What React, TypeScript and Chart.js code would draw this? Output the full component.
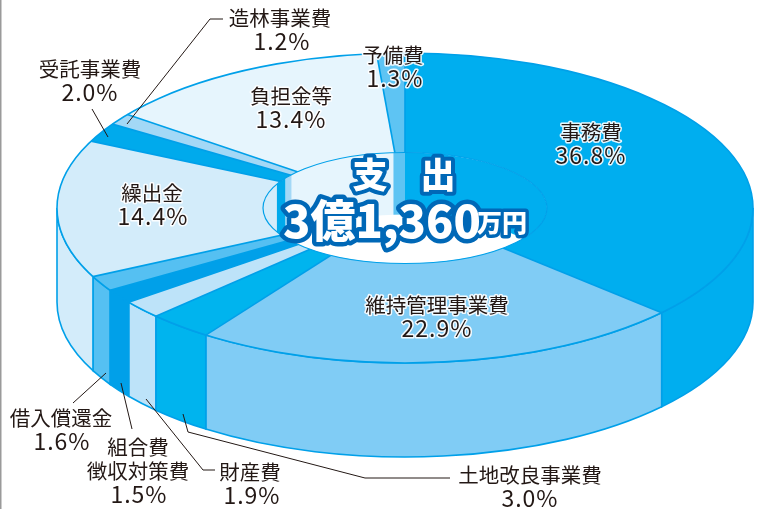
import React, { useEffect, useRef } from "react";
import { Chart, registerables } from "chart.js";

Chart.register(...registerables);

const categories = ["事務費", "維持管理事業費", "土地改良事業費", "財産費", "組合費\n徴収対策費", "借入償還金", "繰出金", "受託事業費", "造林事業費", "負担金等", "予備費"];
const shares = [36.8, 22.9, 3.0, 1.9, 1.5, 1.6, 14.4, 2.0, 1.2, 13.4, 1.3];
const sliceColors = ["#00aeef", "#80ccf5", "#00b4ee", "#bde3f9", "#00a0e9", "#55c0f2", "#d3ecfa", "#00aaec", "#a3d8f6", "#e6f5fd", "#5ec4f3"];
const centerTitle = ["支", "出"];
const centerAmount = "3億1,360";
const centerUnit = "万円";

// label anchors, same order as categories: [x, y of first line, x of percent]
const labelAnchors = [
  [591, 132, 591], [437, 305, 437], [530, 475, 530], [250, 472, 252], [138, 447, 139], [61, 418, 62],
  [152, 193, 153], [90, 69, 90], [280, 18, 282], [291, 96, 291], [393, 55, 395],
];
const leaders = [
  [[223, 19], [210, 19], [127, 124]],
  [[92, 109], [108, 137]],
  [[106, 373], [73, 403]],
  [[121, 383], [132, 429]],
  [[146, 399], [203, 470], [215, 470]],
  [[183, 414], [188, 432], [365, 478], [450, 478]],
];

const CX = 405, CY = 208, RX = 348, RY = 155, DEPTH = 94;
const HOLE_RX = 142, HOLE_RY = 55.5, HOLE_DEPTH = 62;
const LINE = "#00a0e9";
const INK = "#231815";
const DARK = "#0068b7";
const FONT = '"Noto Sans CJK JP", "Noto Sans", sans-serif';

const pie3d = {
  id: "pie3d",
  beforeDatasetsDraw(chart: any) {
    const ctx = chart.ctx;
    const arcs = chart.getDatasetMeta(0).data;
    // outer wall
    ctx.save();
    arcs.forEach((arc: any, i: number) => {
      const a = Math.max(arc.startAngle, 0);
      const b = Math.min(arc.endAngle, Math.PI);
      if (b <= a) return;
      ctx.beginPath();
      ctx.ellipse(CX, CY, RX, RY, 0, a, b);
      ctx.ellipse(CX, CY + DEPTH, RX, RY, 0, b, a, true);
      ctx.closePath();
      ctx.fillStyle = sliceColors[i];
      ctx.fill();
      ctx.strokeStyle = LINE;
      ctx.lineWidth = 1.6;
      ctx.stroke();
    });
    ctx.restore();
    // top face drawn by the library, squashed to an ellipse
    const f = arcs[0];
    ctx.save();
    ctx.translate(CX, CY);
    ctx.scale(RX / f.outerRadius, RY / f.outerRadius);
    ctx.translate(-f.x, -f.y);
  },
  afterDatasetsDraw(chart: any) {
    const ctx = chart.ctx;
    ctx.restore();
    const arcs = chart.getDatasetMeta(0).data;
    ctx.save();
    // radial lines and rim
    ctx.strokeStyle = LINE;
    ctx.lineWidth = 1.6;
    arcs.forEach((arc: any) => {
      ctx.beginPath();
      ctx.moveTo(CX, CY);
      ctx.lineTo(CX + RX * Math.cos(arc.startAngle), CY + RY * Math.sin(arc.startAngle));
      ctx.stroke();
    });
    ctx.beginPath();
    ctx.ellipse(CX, CY, RX, RY, 0, 0, Math.PI * 2);
    ctx.stroke();
    // hole
    ctx.save();
    ctx.beginPath();
    ctx.ellipse(CX, CY, HOLE_RX, HOLE_RY, 0, 0, Math.PI * 2);
    ctx.clip();
    ctx.fillStyle = "#ffffff";
    ctx.fillRect(CX - HOLE_RX - 2, CY - HOLE_RY - 2, HOLE_RX * 2 + 4, HOLE_RY * 2 + 4);
    arcs.forEach((arc: any, i: number) => {
      const ranges: number[][] = [];
      const s = arc.startAngle, e = arc.endAngle;
      for (const [lo, hi] of [[-Math.PI, 0], [Math.PI, Math.PI * 2]]) {
        const a = Math.max(s, lo), b = Math.min(e, hi);
        if (b > a) ranges.push([a, b]);
      }
      ranges.forEach(([a, b]) => {
        ctx.beginPath();
        ctx.ellipse(CX, CY, HOLE_RX, HOLE_RY, 0, a, b);
        ctx.ellipse(CX, CY + HOLE_DEPTH, HOLE_RX, HOLE_RY, 0, b, a, true);
        ctx.closePath();
        ctx.fillStyle = sliceColors[i];
        ctx.fill();
      });
    });
    ctx.restore();
    ctx.beginPath();
    ctx.ellipse(CX, CY, HOLE_RX, HOLE_RY, 0, 0, Math.PI * 2);
    ctx.lineWidth = 1.2;
    ctx.stroke();
    ctx.restore();
  },
  afterDraw(chart: any) {
    const ctx = chart.ctx;
    ctx.save();
    ctx.fillStyle = "#9a9a9a";
    ctx.fillRect(0, 0, 1.5, 509);
    // leader lines
    ctx.strokeStyle = INK;
    ctx.lineWidth = 1;
    leaders.forEach((pts) => {
      ctx.beginPath();
      pts.forEach(([x, y], i) => (i ? ctx.lineTo(x, y) : ctx.moveTo(x, y)));
      ctx.stroke();
    });
    // labels
    ctx.textAlign = "center";
    ctx.textBaseline = "middle";
    ctx.lineJoin = "round";
    const put = (t: string, x: number, y: number) => {
      ctx.strokeStyle = "rgba(255,255,255,0.9)";
      ctx.lineWidth = 3;
      ctx.strokeText(t, x, y);
      ctx.fillStyle = INK;
      ctx.fillText(t, x, y);
    };
    categories.forEach((name, i) => {
      const [x, y, px] = labelAnchors[i];
      const lines = name.split("\n");
      ctx.font = `400 20.5px ${FONT}`;
      (ctx as any).letterSpacing = "0px";
      lines.forEach((l, k) => put(l, x, y + k * 24));
      ctx.font = `400 23px ${FONT}`;
      (ctx as any).letterSpacing = "1px";
      put(shares[i].toFixed(1) + "%", px, y + lines.length * 23.5);
    });
    (ctx as any).letterSpacing = "0px";
    // center text: all outlines first, then all fills
    const heavy: [string, number, number, number, number][] = [
      [centerTitle[0], 370, 175, 35, 8],
      [centerTitle[1], 438, 175, 35, 8],
      [centerAmount, 283, 221, 45, 9],
      [centerUnit, 477, 222, 25, 7],
    ];
    ctx.textAlign = "left";
    heavy.forEach(([t, x, y, size, w]) => {
      ctx.font = `900 ${size}px ${FONT}`;
      ctx.textAlign = size === 35 ? "center" : "left";
      ctx.strokeStyle = DARK;
      ctx.lineWidth = w;
      ctx.strokeText(t, x, y);
    });
    heavy.forEach(([t, x, y, size]) => {
      ctx.font = `900 ${size}px ${FONT}`;
      ctx.textAlign = size === 35 ? "center" : "left";
      ctx.fillStyle = "#ffffff";
      ctx.fillText(t, x, y);
    });
    ctx.restore();
  },
};

export default function App() {
  const ref = useRef<HTMLCanvasElement>(null);
  useEffect(() => {
    document.body.style.margin = "0";
    const chart = new Chart(ref.current!, {
      type: "pie",
      data: {
        labels: categories,
        datasets: [{ data: shares, backgroundColor: sliceColors, borderWidth: 0, clip: false } as any],
      },
      options: {
        responsive: false,
        animation: false,
        layout: { padding: 0 },
        plugins: { legend: { display: false }, tooltip: { enabled: false } },
      },
      plugins: [pie3d],
    });
    return () => chart.destroy();
  }, []);
  return <canvas ref={ref} width={765} height={509} style={{ display: "block" }} />;
}
